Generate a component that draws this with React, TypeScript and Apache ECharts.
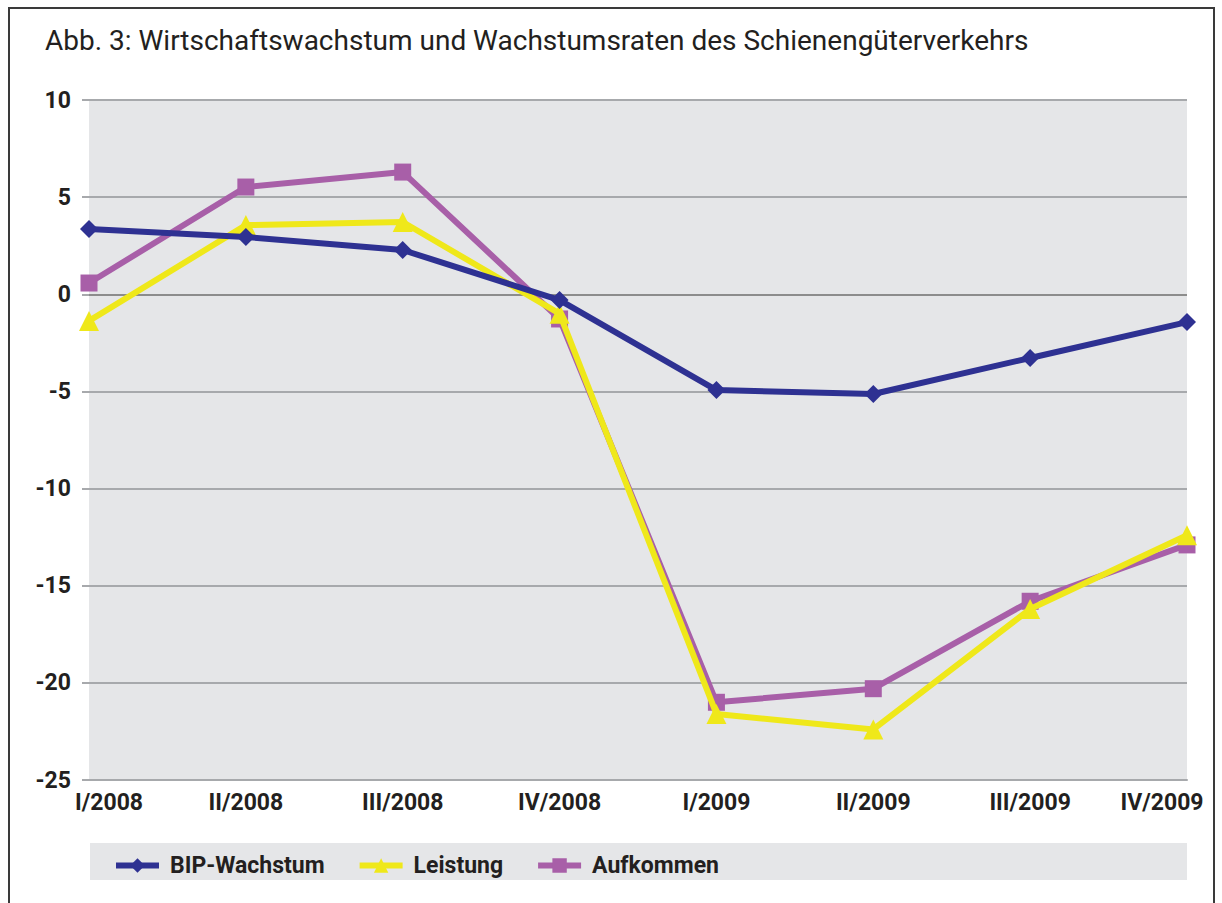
import React, { useEffect, useRef } from "react";
import * as echarts from "echarts";

const categories = ["I/2008", "II/2008", "III/2008", "IV/2008", "I/2009", "II/2009", "III/2009", "IV/2009"];
const bipWachstum = [3.36, 2.95, 2.28, -0.3, -4.93, -5.13, -3.28, -1.43];
const leistung = [-1.37, 3.56, 3.72, -1.0, -21.6, -22.4, -16.2, -12.4];
const aufkommen = [0.58, 5.52, 6.29, -1.27, -21.0, -20.3, -15.8, -12.9];

const titleText = "Abb. 3: Wirtschaftswachstum und Wachstumsraten des Schienengüterverkehrs";
const FONT = "Roboto, 'DejaVu Sans', sans-serif";

export default function App() {
  const ref = useRef<HTMLDivElement>(null);
  useEffect(() => {
    if (!ref.current) return;
    const chart = echarts.init(ref.current, null, { renderer: "svg" });
    const lineSeries = (name: string, data: number[], color: string, symbol: string, size: number, z: number) => ({
      name,
      type: "line",
      data,
      color,
      symbol,
      symbolSize: size,
      showSymbol: true,
      z,
      lineStyle: { color, width: 6 },
      itemStyle: { color, borderWidth: 0 },
    });
    const labelStyle = { fontFamily: FONT, fontSize: 23, fontWeight: "bold", color: "#231f20" };
    chart.setOption({
      animation: false,
      backgroundColor: "#ffffff",
      textStyle: { fontFamily: FONT },
      title: {
        text: titleText,
        left: 40,
        top: 21,
        textStyle: { fontFamily: FONT, fontSize: 28, fontWeight: "normal", color: "#231f20" },
      },
      graphic: [
        { type: "rect", shape: { x: 9, y: 8, width: 1205, height: 1000 }, style: { fill: "none", stroke: "#3a3a3a", lineWidth: 2 }, silent: true, z: -1 },
        { type: "rect", shape: { x: 90, y: 843, width: 1097, height: 37 }, style: { fill: "#e5e6e8" }, silent: true, z: -1 },
      ],
      legend: {
        left: 108,
        top: 849,
        itemWidth: 43,
        itemHeight: 18,
        itemGap: 32,
        lineStyle: { width: 6 },
        textStyle: { ...labelStyle, padding: [0, 0, 0, 6] },
        data: ["BIP-Wachstum", "Leistung", "Aufkommen"],
      },
      grid: {
        left: 89,
        right: 35,
        top: 100,
        bottom: 123,
        show: true,
        backgroundColor: "#e5e6e8",
        borderWidth: 0,
        outerBoundsMode: "none",
        containLabel: false,
      },
      xAxis: {
        type: "category",
        data: categories,
        boundaryGap: false,
        axisLine: { onZero: false, lineStyle: { color: "#a7a9ac", width: 2 } },
        axisTick: { show: false },
        axisLabel: {
          ...labelStyle,
          interval: 0,
          hideOverlap: false,
          margin: 11,
          formatter: (v: string, i: number) =>
            i === 0 ? `{first|${v}}` : i === categories.length - 1 ? `{last|${v}}` : v,
          rich: {
            first: { ...labelStyle, padding: [0, 0, 0, 40] },
            last: { ...labelStyle, padding: [0, 50, 0, 0] },
          },
        },
      },
      yAxis: {
        type: "value",
        min: -25,
        max: 10,
        interval: 5,
        axisLine: { show: false },
        axisTick: { show: true, length: 7, lineStyle: { color: "#a7a9ac", width: 2 } },
        splitLine: { show: true, lineStyle: { color: "#a7a9ac", width: 2 } },
        axisLabel: { ...labelStyle, margin: 18 },
      },
      series: [
        {
          ...lineSeries("BIP-Wachstum", bipWachstum, "#2e3192", "diamond", 18, 4),
          markLine: {
            silent: true,
            symbol: "none",
            label: { show: false },
            lineStyle: { color: "#8c8c8c", width: 2, type: "solid" },
            data: [{ yAxis: 0 }],
            z: 1,
          },
        },
        lineSeries("Leistung", leistung, "#efe81a", "triangle", 20, 3),
        lineSeries("Aufkommen", aufkommen, "#a85fa8", "rect", 17, 2),
      ],
    });
    return () => chart.dispose();
  }, []);
  return <div ref={ref} style={{ position: "fixed", left: 0, top: 0, width: 1222, height: 903 }} />;
}
